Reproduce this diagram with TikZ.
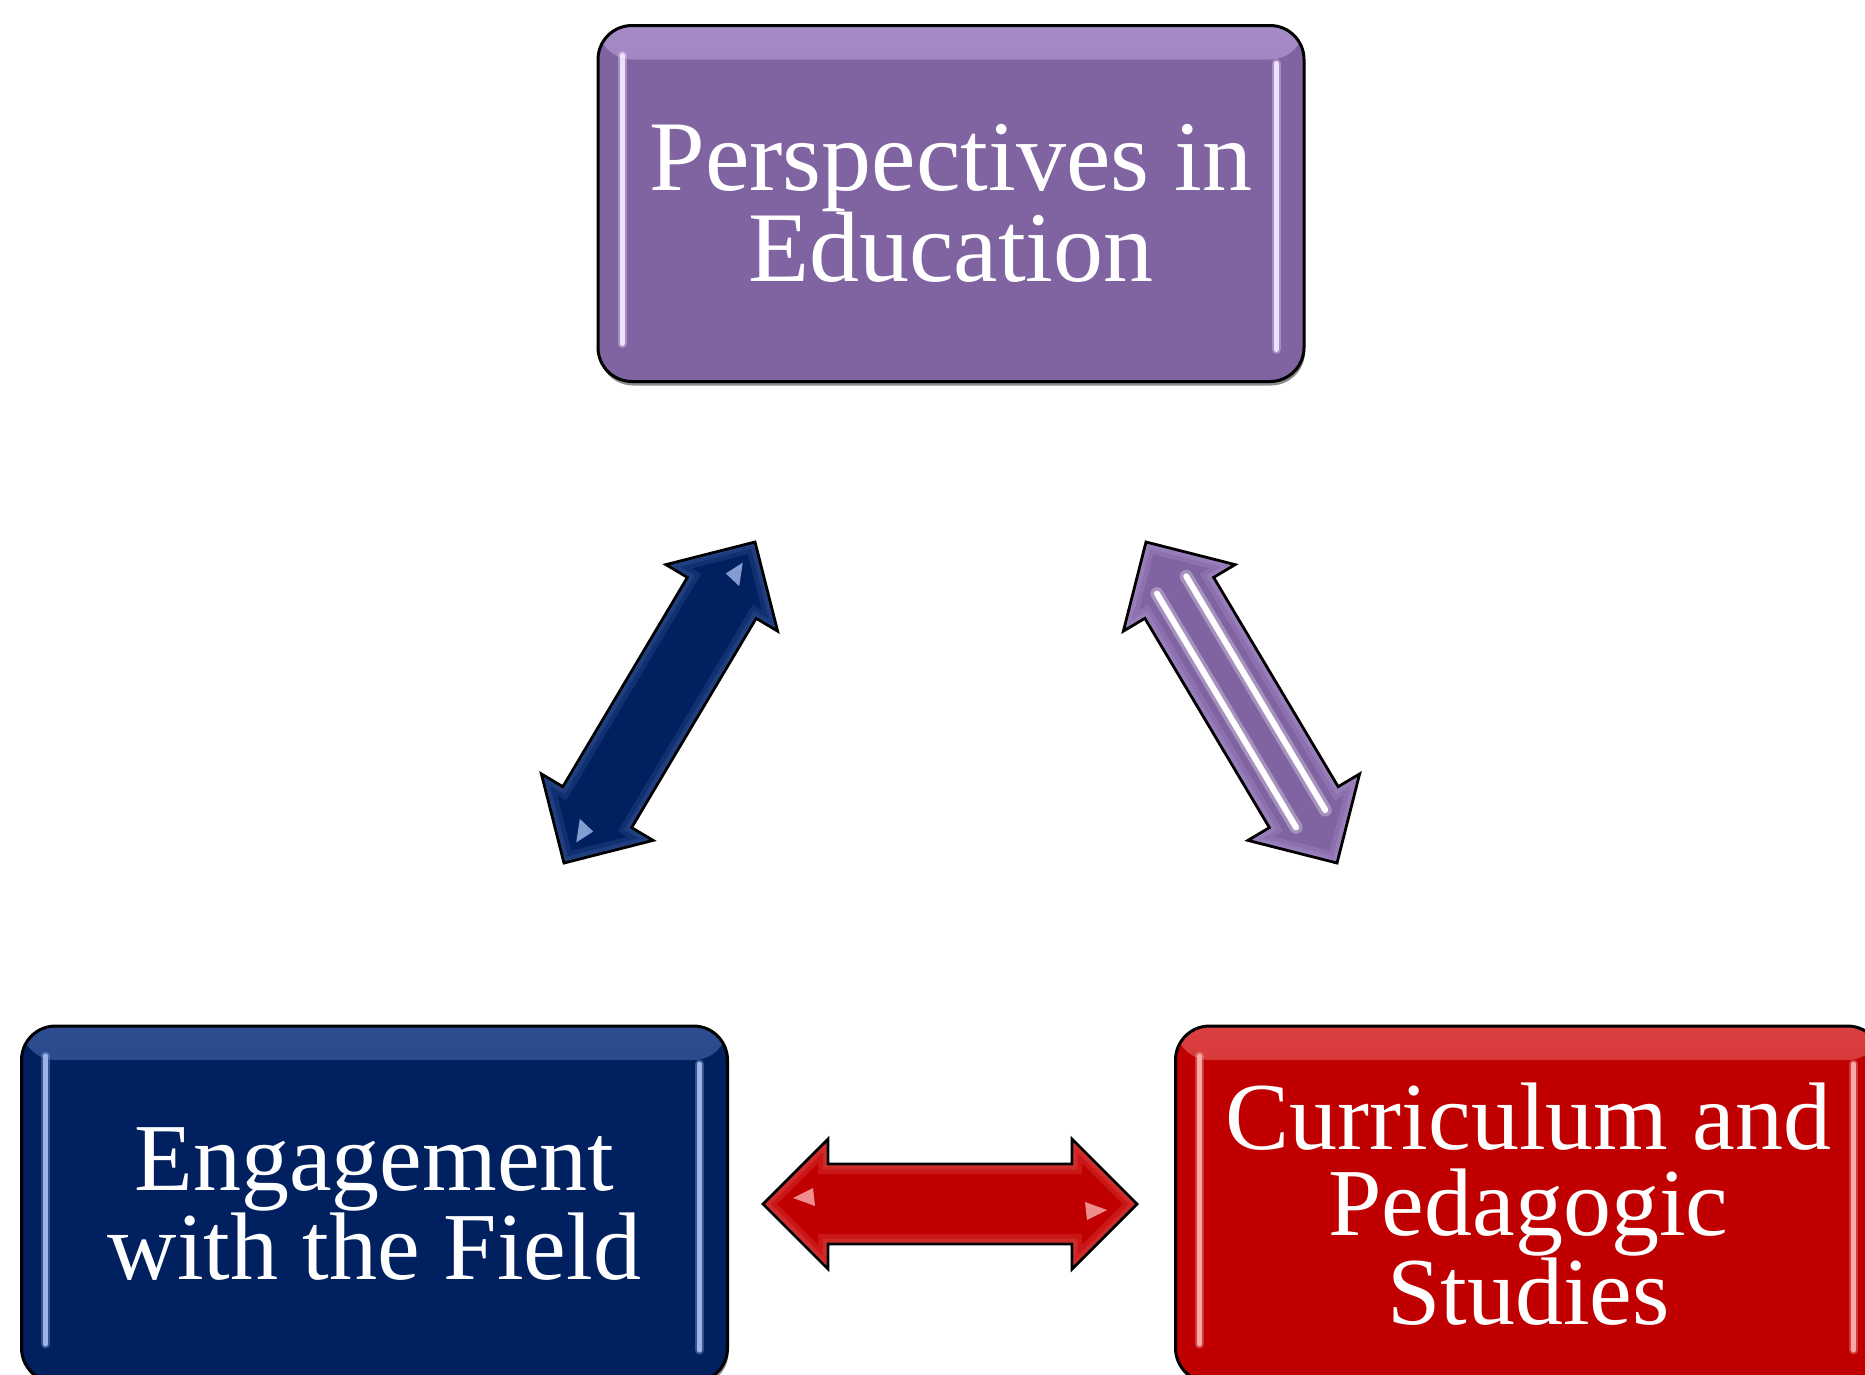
\documentclass[tikz,border=0pt]{standalone}
\usepackage{fontspec}
\setmainfont{Liberation Serif}
\usetikzlibrary{calc,shadows}
\definecolor{purp}{HTML}{8064A2}
\definecolor{purplt}{HTML}{A48BC6}
\definecolor{purhl}{HTML}{ECE2FC}
\definecolor{navy}{HTML}{002060}
\definecolor{navylt}{HTML}{2E4E92}
\definecolor{navyhl}{HTML}{9AB4E6}
\definecolor{redd}{HTML}{C00000}
\definecolor{reddlt}{HTML}{DA4040}
\definecolor{reddhl}{HTML}{F7A8A8}
\def\ahl{65pt}
\def\ahw{65pt}
\def\asw{40pt}
\newcommand\dblpath[2]{(#1) -- ($(#1)!\ahl!(#2)!\ahw!90:(#2)$) -- ($(#1)!\ahl!(#2)!\asw!90:(#2)$) -- ($(#2)!\ahl!(#1)!\asw!-90:(#1)$) -- ($(#2)!\ahl!(#1)!\ahw!-90:(#1)$) -- (#2) -- ($(#2)!\ahl!(#1)!\ahw!90:(#1)$) -- ($(#2)!\ahl!(#1)!\asw!90:(#1)$) -- ($(#1)!\ahl!(#2)!\asw!-90:(#2)$) -- ($(#1)!\ahl!(#2)!\ahw!-90:(#2)$) -- cycle}
\newcommand\dblarrow[4]{% base, glow, from, to
  \begin{scope}
    \clip \dblpath{#3}{#4};
    \fill[#1] \dblpath{#3}{#4};
    \draw[#2, line width=20pt, opacity=.35] \dblpath{#3}{#4};
    \draw[#2, line width=11pt, opacity=.45] \dblpath{#3}{#4};
    \draw[#2, line width=5pt, opacity=.5] \dblpath{#3}{#4};
  \end{scope}
  \draw[arrowline] \dblpath{#3}{#4};
}
\tikzset{
  x=1pt, y=1pt,
  arrowline/.style={draw=black, line width=2.8pt, line join=miter},
  glossbox/.style n args={3}{
    draw=black, line width=3pt, rounded corners=34pt,
    minimum width=706pt, minimum height=356pt, inner sep=0pt,
    align=center, text=white, font=\fontsize{96}{86}\selectfont,
    fill=#1,
    drop shadow={shadow xshift=1pt, shadow yshift=-4pt, opacity=.45, fill=black},
    path picture={
      \shade[top color=#2, bottom color=#1]
        (path picture bounding box.north west) rectangle
        ([yshift=-34pt]path picture bounding box.north east);
      \draw[#3, line width=9pt, line cap=round, opacity=.35]
        ([xshift=24pt, yshift=-30pt]path picture bounding box.north west) --
        ([xshift=24pt, yshift=38pt]path picture bounding box.south west);
      \draw[#3, line width=9pt, line cap=round, opacity=.35]
        ([xshift=-28pt, yshift=-38pt]path picture bounding box.north east) --
        ([xshift=-28pt, yshift=32pt]path picture bounding box.south east);
      \draw[#3, line width=5pt, line cap=round]
        ([xshift=24pt, yshift=-30pt]path picture bounding box.north west) --
        ([xshift=24pt, yshift=38pt]path picture bounding box.south west);
      \draw[#3, line width=5pt, line cap=round]
        ([xshift=-28pt, yshift=-38pt]path picture bounding box.north east) --
        ([xshift=-28pt, yshift=32pt]path picture bounding box.south east);
    }
  },
  glint/.style={fill=#1, opacity=.85},
  stripe/.style={draw=white, line width=6pt, line cap=round},
  stripeglow/.style={draw=white, line width=13pt, line cap=round, opacity=.3},
}
\begin{document}
\begin{tikzpicture}
  \useasboundingbox (0,0) rectangle (1865,-1374);
  \clip (0,0) rectangle (1865,-1374);

  % boxes
  \node[glossbox={purp}{purplt}{purhl}, font=\fontsize{100}{87}\selectfont] (pie) at (951,-203.5)
    {Perspectives in\\Education};
  \node[glossbox={navy}{navylt}{navyhl}] (ewf) at (374.5,-1204)
    {Engagement\\with the Field};
  \node[glossbox={redd}{reddlt}{reddhl}] (cps) at (1528.5,-1204)
    {Curriculum and\\Pedagogic\\Studies};

  % connector end points
  \coordinate (l1) at (564,-863);
  \coordinate (l2) at (755,-542);
  \coordinate (r1) at (1146,-542);
  \coordinate (r2) at (1337,-863);
  \coordinate (h1) at (763,-1204);
  \coordinate (h2) at (1137,-1204);

  % left (navy) arrow
  \dblarrow{navy}{navylt}{l1}{l2}
  \fill[glint=navyhl] ($(l2)!24pt!(l1)$) -- ($(l2)!46pt!(l1)!9pt!90:(l1)$) -- ($(l2)!42pt!(l1)!9pt!-90:(l1)$) -- cycle;
  \fill[glint=navyhl] ($(l1)!24pt!(l2)$) -- ($(l1)!46pt!(l2)!9pt!90:(l2)$) -- ($(l1)!42pt!(l2)!9pt!-90:(l2)$) -- cycle;

  % right (purple) arrow
  \dblarrow{purp}{purplt}{r1}{r2}
  \draw[stripeglow] ($(r1)!50pt!(r2)!17pt!90:(r2)$) -- ($(r1)!322pt!(r2)!17pt!90:(r2)$);
  \draw[stripeglow] ($(r1)!50pt!(r2)!17pt!-90:(r2)$) -- ($(r1)!322pt!(r2)!17pt!-90:(r2)$);
  \draw[stripe] ($(r1)!50pt!(r2)!17pt!90:(r2)$) -- ($(r1)!322pt!(r2)!17pt!90:(r2)$);
  \draw[stripe] ($(r1)!50pt!(r2)!17pt!-90:(r2)$) -- ($(r1)!322pt!(r2)!17pt!-90:(r2)$);

  % horizontal (red) arrow
  \dblarrow{redd}{reddlt}{h1}{h2}
  \fill[glint=reddhl] ($(h1)!30pt!(h2)!6pt!90:(h2)$) -- ($(h1)!50pt!(h2)!16pt!90:(h2)$) -- ($(h1)!52pt!(h2)!2pt!-90:(h2)$) -- cycle;
  \fill[glint=reddhl] ($(h2)!30pt!(h1)!6pt!90:(h1)$) -- ($(h2)!50pt!(h1)!16pt!90:(h1)$) -- ($(h2)!52pt!(h1)!2pt!-90:(h1)$) -- cycle;
\end{tikzpicture}
\end{document}
